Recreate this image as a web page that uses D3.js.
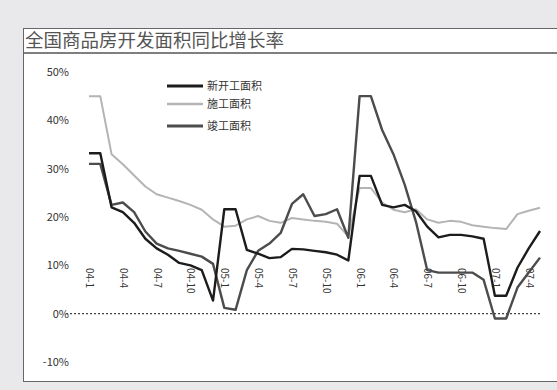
<!DOCTYPE html>
<html>
<head>
<meta charset="utf-8">
<script src="https://cdn.jsdelivr.net/npm/d3@7"></script>
<style>
  body { margin: 0; background: #e9e9eb; }
  svg { display: block; }
  text { font-family: "Noto Sans CJK SC", "DejaVu Sans", sans-serif; }
</style>
</head>
<body>
<div id="chart"></div>
<script>
// monthly data, 2004-01 .. 2007-05 (Jan and Feb reported together)
const months = d3.range(41).map(i => {
    const y = 4 + Math.floor(i / 12), m = i % 12 + 1;
    return '0' + y + '-' + m;
});
const tickMonths = months.filter((d, i) => i % 3 === 0);

const seriesNames = ['新开工面积', '施工面积', '竣工面积'];

const newStart = [33.2, 33.2, 22, 21, 18.8, 15.5, 13.5, 12.2, 10.5, 10, 9, 2.7,
    21.6, 21.6, 13.2, 12.4, 11.5, 11.7, 13.4, 13.3, 13, 12.7, 12.2, 11,
    28.5, 28.5, 22.5, 22, 22.5, 21.2, 18, 15.8, 16.3, 16.3, 16, 15.5,
    3.7, 3.7, 9.5, 13.5, 17.1];
const underConstr = [45, 45, 33, 30.9, 28.6, 26.3, 24.7, 24, 23.3, 22.5, 21.5, 19.5,
    18, 18.2, 19.5, 20.2, 19.2, 18.8, 19.8, 19.5, 19.2, 19, 18.6, 16,
    26, 26, 23, 21.5, 21, 21.6, 19.5, 18.8, 19.2, 19, 18.3, 18,
    17.7, 17.5, 20.6, 21.3, 21.9];
const completed = [31, 31, 22.5, 23, 21, 17, 14.5, 13.5, 13, 12.4, 11.8, 10.3,
    1.2, 0.8, 9, 13, 14.5, 16.7, 22.7, 24.7, 20.2, 20.6, 21.6, 15.7,
    45, 45, 38, 33, 26.7, 19, 9, 8.5, 8.5, 8.5, 8.5, 7,
    -1, -1, 5.4, 8.5, 11.6];

const yTicks = [50, 40, 30, 20, 10, 0, -10];

const width = 557, height = 390;

const svg = d3.select('#chart').append('svg')
    .attr('width', width)
    .attr('height', height);

// frame: title strip and chart panel
svg.append('rect')
    .attr('x', 23.5).attr('y', 28.5)
    .attr('width', 560).attr('height', 353)
    .attr('fill', '#fff')
    .attr('stroke', '#666');
svg.append('line')
    .attr('x1', 23.5).attr('x2', 560)
    .attr('y1', 53).attr('y2', 53)
    .attr('stroke', '#555').attr('stroke-width', 1.5);

svg.append('text')
    .attr('x', 25).attr('y', 47)
    .attr('font-size', 18.5)
    .attr('fill', '#555')
    .text('全国商品房开发面积同比增长率');

const x = d3.scalePoint()
    .domain(months)
    .range([89, 540]);

const y = d3.scaleLinear()
    .domain([-10, 50])
    .range([362, 72]);

// y labels
svg.append('g').selectAll('text')
    .data(yTicks)
    .join('text')
    .attr('x', 69)
    .attr('y', d => y(d) + 4)
    .attr('text-anchor', 'end')
    .attr('font-size', 11)
    .attr('fill', '#333')
    .text(d => d + '%');

// zero line
svg.append('line')
    .attr('x1', 66).attr('x2', 541)
    .attr('y1', y(0)).attr('y2', y(0))
    .attr('stroke', '#444')
    .attr('stroke-width', 1.2)
    .attr('stroke-dasharray', '2,2');

// x labels, vertical
svg.append('g').selectAll('text')
    .data(tickMonths)
    .join('text')
    .attr('transform', d => `translate(${x(d) - 3}, 268) rotate(90)`)
    .attr('font-size', 10)
    .attr('fill', '#333')
    .text(d => d);

const line = d3.line()
    .x((d, i) => x(months[i]))
    .y(d => y(d));

const colors = ['#1c1c1c', '#b4b4b4', '#4c4c4c'];
const widths = [2.4, 2, 2.4];
const allSeries = [newStart, underConstr, completed];

svg.append('g').selectAll('path')
    .data([underConstr, completed, newStart])
    .join('path')
    .attr('d', line)
    .attr('fill', 'none')
    .attr('stroke', d => colors[allSeries.indexOf(d)])
    .attr('stroke-width', d => widths[allSeries.indexOf(d)])
    .attr('stroke-linejoin', 'round');

// legend
const legendY = [86, 104, 126];
const legend = svg.append('g').selectAll('g')
    .data(seriesNames)
    .join('g')
    .attr('transform', (d, i) => `translate(167, ${legendY[i]})`);
legend.append('line')
    .attr('x1', 0).attr('x2', 36)
    .attr('stroke', (d, i) => colors[i])
    .attr('stroke-width', (d, i) => widths[i] + 0.6);
legend.append('text')
    .attr('x', 40).attr('y', 4)
    .attr('font-size', 11)
    .attr('fill', '#333')
    .text(d => d);
</script>
</body>
</html>
